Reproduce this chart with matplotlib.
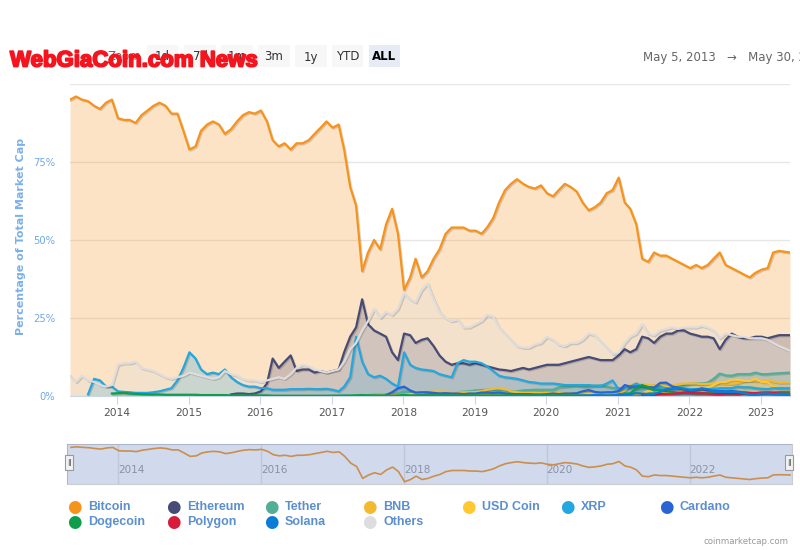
import numpy as np
import pandas as pd
import matplotlib
matplotlib.use("Agg")
import matplotlib.pyplot as plt
import matplotlib.dates as mdates
import matplotlib.patheffects as pe
from matplotlib.patches import Rectangle

# monthly dominance (% of total market cap)
first_day = "2013-05-05"
last_day = "2023-05-30"

btc = [95, 96, 95, 94.5, 93, 92, 94, 95,
       89, 88.5, 88.5, 87.5, 90, 91.5, 93, 94, 93, 90.5, 90.5, 85,
       79, 80, 85, 87, 88, 87, 84, 85.5, 88, 90, 91, 90.5,
       91.5, 88, 82, 80, 81, 79, 81, 81, 82, 84, 86, 88,
       86, 87, 79, 67, 61, 40, 46, 50, 47, 55, 60, 52,
       34, 38, 44, 38, 40, 44, 47, 52, 54, 54, 54, 53,
       53, 52, 54, 57, 62, 66, 68, 69.5, 68, 67, 66.5, 67.5,
       65, 64, 66, 68, 67, 65.5, 62, 59.5, 60.5, 62, 65, 66,
       70, 62, 60, 55, 44, 43, 46, 45, 45, 44, 43, 42,
       41, 42, 41, 42, 44, 46, 42, 41, 40, 39, 38, 39.5,
       40.5, 41, 46, 46.5, 46]

eth_start = "2015-08"
eth = [0.5, 0.8, 0.8, 0.6, 0.8,
       1.5, 4, 12, 9, 11, 13, 8, 8.5, 8.5, 7.5, 8, 7.5,
       8, 8.5, 14, 19, 22, 31, 23, 21, 20, 19, 14, 11.5,
       20, 19.5, 17, 18, 18.5, 16, 13, 11, 10, 10.5, 10.5, 10,
       10.5, 10, 9.5, 9, 8.5, 8.3, 8, 8.5, 9, 8.5, 9, 9.5,
       10, 10, 10, 10.5, 11, 11.5, 12, 12.5, 12, 11.5, 11.5, 11.5,
       13, 15, 14, 15, 19, 18.5, 17, 19, 20, 20, 21, 21,
       20, 19.5, 19, 19, 18.5, 15, 18, 20, 19, 18.5, 18.5, 19,
       19, 18.5, 19, 19.5, 19.5]

usdt_start = "2017-01"
usdt = [0.1, 0.1, 0.2, 0.2, 0.2, 0.2, 0.3, 0.4, 0.4, 0.5, 0.6, 0.8,
        1.5, 1.4, 0.9, 0.8, 0.9, 0.8, 1.0, 1.1, 1.3, 1.2, 1.4, 1.5,
        1.8, 1.9, 2.0, 2.1, 1.7, 1.3, 1.4, 1.5, 1.8, 1.9, 2.0, 2.0,
        2.0, 2.0, 2.8, 3.0, 3.2, 3.3, 3.0, 3.0, 3.3, 3.4, 3.0, 2.6,
        2.5, 2.5, 2.6, 2.4, 2.6, 3.2, 3.5, 3.3, 3.2, 3.0, 2.8, 3.3,
        3.9, 4.0, 4.0, 4.3, 5.5, 7.2, 6.6, 6.5, 7.0, 7.0, 7.0, 7.5,
        7.0, 7.0, 7.2, 7.3, 7.5]

bnb_start = "2017-08"
bnb = [0.1, 0.2, 0.3, 0.4, 0.3,
       0.4, 0.6, 0.8, 1.0, 1.2, 1.5, 1.4, 1.4, 1.3, 1.2, 1.2, 1.2,
       1.3, 1.5, 2.0, 2.3, 2.5, 2.2, 1.5, 1.2, 1.0, 1.0, 1.0, 0.9,
       1.0, 1.0, 0.9, 1.0, 0.9, 1.0, 0.9, 0.8, 1.0, 0.9, 0.8, 0.7,
       0.6, 1.8, 3.5, 4.0, 3.7, 3.6, 3.4, 3.8, 3.0, 3.3, 3.8, 4.0,
       4.0, 4.0, 3.8, 3.9, 4.0, 4.1, 4.0, 3.9, 4.2, 4.7, 5.0, 4.8,
       4.9, 5.0, 4.7, 4.3, 4.4]

usdc_start = "2018-10"
usdc = [0.1, 0.1, 0.1,
        0.2, 0.2, 0.2, 0.2, 0.15, 0.15, 0.2, 0.2, 0.2, 0.2, 0.2, 0.2,
        0.2, 0.2, 0.3, 0.3, 0.3, 0.3, 0.4, 0.5, 0.8, 0.9, 0.7, 0.5,
        0.7, 0.6, 0.6, 0.6, 0.9, 1.6, 1.6, 1.4, 1.3, 1.2, 1.1, 1.7,
        2.3, 2.6, 2.5, 2.6, 3.5, 4.5, 4.5, 5.2, 5.2, 4.9, 4.8, 5.5,
        4.5, 4.4, 3.0, 2.5, 2.5]

xrp_start = "2013-08"
xrp = [0.5, 5.5, 5, 3, 3,
       1.5, 1.3, 1.2, 1.0, 1.0, 1.0, 1.2, 1.5, 2, 2.5, 5, 9,
       14, 12, 8.5, 7, 7.5, 7, 8.5, 6, 4.5, 3.5, 3, 3,
       2.5, 2.5, 2, 2, 2, 2.2, 2.2, 2.2, 2.3, 2.2, 2.2, 2.3,
       2, 1.5, 3, 6, 19, 11, 7, 6, 6.5, 5.5, 4, 3,
       14, 10, 9, 8.5, 8.3, 8, 7, 6.5, 6, 10.5, 11.5, 11,
       11, 10.5, 9.5, 8, 6.5, 6, 5.8, 5.5, 5, 4.5, 4.3, 4,
       4, 4, 3.8, 3.5, 3.5, 3.5, 3.5, 3.5, 3.3, 3.2, 4, 5,
       2, 2.5, 3, 4, 3, 2.5, 2.3, 2.8, 2.5, 2.5, 2.3, 2.3,
       2.2, 2.2, 2.3, 2.2, 2.3, 2.5, 2.5, 2.5, 3, 2.8, 2.8, 2.5,
       2.3, 2.2, 2.5, 2.5, 2.5]

ada_start = "2017-10"
ada = [0.3, 1.2, 2.5,
       3.0, 1.8, 1.1, 1.2, 1.2, 1.0, 0.8, 0.9, 0.8, 0.8, 0.6, 0.8,
       0.8, 1.1, 1.1, 1.0, 1.1, 0.8, 0.6, 0.6, 0.6, 0.6, 0.5, 0.5,
       0.6, 0.8, 0.6, 0.8, 0.8, 0.9, 1.5, 1.9, 1.3, 1.1, 1.2, 1.2,
       1.6, 3.5, 3.0, 3.0, 3.3, 2.8, 2.7, 4.2, 4.3, 3.1, 2.6, 2.1,
       1.7, 1.8, 2.4, 1.8, 1.7, 1.6, 1.5, 1.6, 1.4, 1.2, 1.0, 0.9,
       1.1, 1.1, 1.1, 1.2, 1.2]

doge_start = "2013-12"
doge = [0.8,
        0.9, 1.0, 0.8, 0.7, 0.6, 0.5, 0.5, 0.5, 0.4, 0.4, 0.4, 0.4,
        0.4, 0.4, 0.3, 0.3, 0.3, 0.3, 0.3, 0.2, 0.2, 0.2, 0.2, 0.2,
        0.2, 0.2, 0.1, 0.1, 0.1, 0.1, 0.1, 0.1, 0.1, 0.1, 0.1, 0.1,
        0.1, 0.1, 0.1, 0.1, 0.2, 0.3, 0.2, 0.2, 0.2, 0.2, 0.1, 0.2,
        0.3, 0.2, 0.2, 0.2, 0.2, 0.2, 0.2, 0.2, 0.2, 0.2, 0.2, 0.2,
        0.2, 0.2, 0.2, 0.2, 0.2, 0.2, 0.2, 0.2, 0.2, 0.2, 0.2, 0.2,
        0.2, 0.2, 0.2, 0.2, 0.2, 0.2, 0.2, 0.1, 0.1, 0.1, 0.1, 0.1,
        0.5, 0.8, 0.8, 2.5, 3.5, 2.8, 1.8, 2.0, 1.5, 1.3, 1.1, 1.0,
        1.0, 0.9, 0.9, 0.9, 0.8, 0.7, 0.7, 0.7, 0.7, 1.2, 0.9, 0.9,
        1.0, 1.0, 0.9, 1.0, 0.9]

matic_start = "2021-05"
matic = [0.5, 0.6, 0.5, 0.6, 0.6, 0.7, 0.9, 1.2,
         1.0, 0.9, 0.9, 0.8, 0.6, 0.5, 0.8, 0.8, 0.7, 0.9, 0.9, 0.9,
         1.0, 1.1, 1.0, 0.8, 0.7]

sol_start = "2020-04"
sol = [0.05, 0.05, 0.05, 0.1, 0.2, 0.3, 0.2, 0.2, 0.2,
       0.4, 0.5, 0.6, 0.9, 0.8, 0.6, 0.7, 1.3, 2.2, 2.2, 2.7, 2.3,
       1.8, 2.1, 2.4, 2.2, 1.4, 1.3, 1.3, 1.3, 1.2, 1.0, 0.4, 0.4,
       0.8, 0.8, 0.6, 0.7, 0.6]

others = [6.5, 4.5, 6.5, 5, 4.5, 3.5, 3, 3.5,
          10, 10.5, 10.5, 11, 9, 8.5, 8, 7, 6, 5.5, 6, 6.5,
          7.5, 7, 6.5, 6, 5.5, 6, 8, 7, 6.5, 5.5, 5, 5,
          4.5, 5, 5.5, 6, 5.5, 7, 9, 10, 9.5, 8.5, 8, 7.5,
          8, 8.5, 11, 15, 17, 21, 24, 28, 25, 27, 26, 28,
          33, 31, 30, 34, 36, 31, 27, 25, 24, 24.5, 22, 22,
          23, 24, 26, 25.5, 22, 20, 18, 16, 15.5, 15.5, 16.5, 17,
          19, 18, 16.5, 16, 17, 17, 18, 20, 19.5, 17.5, 15.5, 13.5,
          14, 17, 19, 20, 23, 20, 19.5, 21, 21.5, 22, 21.5, 22,
          22, 22, 22.5, 22, 21, 18.5, 20, 19.5, 19, 19, 18.5, 18.5,
          18.5, 18, 17, 16, 14.5]

names = ["Bitcoin", "Ethereum", "Tether", "BNB", "USD Coin", "XRP", "Cardano",
         "Dogecoin", "Polygon", "Solana", "Others"]
colors = ["#F7931A", "#474B77", "#50AF95", "#F3BA2F", "#FFC832", "#23A7E0",
          "#2A64D2", "#0E9E4B", "#D81B3C", "#0A7ED6", "#DDDDDD"]

# one date per month, last point on the end date
dates = pd.date_range(first_day, periods=len(btc) - 1, freq=pd.DateOffset(months=1))
dates = dates.append(pd.DatetimeIndex([last_day]))


def month_index(start):
    y, m = int(start[:4]), int(start[5:7])
    return (y - 2013) * 12 + m - 5


series = [
    (0, btc), (month_index(eth_start), eth), (month_index(usdt_start), usdt),
    (month_index(bnb_start), bnb), (month_index(usdc_start), usdc),
    (month_index(xrp_start), xrp), (month_index(ada_start), ada),
    (month_index(doge_start), doge), (month_index(matic_start), matic),
    (month_index(sol_start), sol), (0, others),
]
for i0, vals in series:
    assert i0 + len(vals) == len(dates), (i0, len(vals))

W, H = 800, 550
fig = plt.figure(figsize=(8, 5.5), dpi=100)
fig.patch.set_facecolor("white")

ax = fig.add_axes([70 / W, 1 - 396 / H, 720 / W, 312 / H])
shadow = [pe.SimpleLineShadow(offset=(0.8, -0.8), alpha=0.15), pe.Normal()]
for (i0, vals), name, c in zip(series, names, colors):
    x = dates[i0:]
    ax.fill_between(x, 0, vals, color=c, alpha=0.25, linewidth=0, zorder=2)
    ax.plot(x, vals, color=c, lw=1.6, zorder=3, path_effects=shadow,
            solid_joinstyle="round")

ax.set_xlim(pd.Timestamp(first_day), pd.Timestamp(last_day))
ax.set_ylim(0, 100)
ax.set_yticks([0, 25, 50, 75, 100])
ax.set_yticklabels(["0%", "25%", "50%", "75%", ""])
ax.yaxis.grid(True, color="#e6e6e6", lw=1)
ax.set_axisbelow(True)
ax.tick_params(axis="y", length=0, labelcolor="#6fa8e6", labelsize=7.2, pad=10.8)
ax.xaxis.set_major_locator(mdates.YearLocator())
ax.xaxis.set_major_formatter(mdates.DateFormatter("%Y"))
ax.tick_params(axis="x", length=6, color="#ccd6eb", labelcolor="#555555",
               labelsize=7.7, pad=3)
for s in ["top", "right", "left"]:
    ax.spines[s].set_visible(False)
ax.spines["bottom"].set_color("#ccd6eb")
ax.set_ylabel("Percentage of Total Market Cap", color="#7cb0e8",
              fontsize=8, fontweight="bold")
ax.yaxis.set_label_coords(-44 / 720, 0.51)

# navigator
nav = fig.add_axes([67 / W, 1 - 484 / H, 725 / W, 40 / H])
nav.plot(dates, btc, color="#F7931A", lw=1.2, zorder=2)
nav.set_xlim(pd.Timestamp(first_day) - pd.Timedelta(days=20),
             pd.Timestamp(last_day) + pd.Timedelta(days=10))
nav.set_ylim(30, 101)
nav.set_yticks([])
nav.xaxis.set_major_locator(mdates.YearLocator(2))
nav.xaxis.set_major_formatter(mdates.DateFormatter("%Y"))
nav.xaxis.grid(True, color="#e6e6e6", lw=1)
nav.set_axisbelow(True)
nav.tick_params(axis="x", length=0, direction="in", pad=-14,
                labelcolor="#999999", labelsize=7.5)
for lab in nav.get_xticklabels():
    lab.set_horizontalalignment("left")
for s in nav.spines.values():
    s.set_color("#cccccc")
nav.add_patch(Rectangle((0, 0), 1, 1, transform=nav.transAxes,
                        facecolor="#6685c2", alpha=0.3, lw=0, zorder=3))
for hx in [69, 789]:
    fig.patches.append(Rectangle(((hx - 4) / W, 1 - 470 / H), 8 / W, 15 / H,
                                 transform=fig.transFigure, facecolor="#f2f2f2",
                                 edgecolor="#999999", lw=0.8, zorder=5))
    fig.text(hx / W, 1 - 463 / H, "||", ha="center", va="center",
             fontsize=5, color="#333333", zorder=6)

# range selector buttons
fig.text(108 / W, 1 - 57 / H, "Zoom", fontsize=8.5, color="#666666", va="center")
buttons = [("1d", 147, 178), ("7d", 184, 216), ("1m", 221, 253), ("3m", 258, 290),
           ("1y", 295, 327), ("YTD", 332, 363), ("ALL", 369, 400)]
for lab, x0, x1 in buttons:
    sel = lab == "ALL"
    fig.patches.append(Rectangle((x0 / W, 1 - 67 / H), (x1 - x0) / W, 22 / H,
                                 transform=fig.transFigure,
                                 facecolor="#e6ebf5" if sel else "#f7f7f7", lw=0))
    fig.text((x0 + x1) / 2 / W, 1 - 57 / H, lab, ha="center", va="center",
             fontsize=8.5, color="#000000" if sel else "#333333",
             fontweight="bold" if sel else "normal")

fig.text(643 / W, 1 - 57 / H, "May 5, 2013   \u2192   May 30, 2023", fontsize=8.5,
         color="#666666", va="center")

# site watermark drawn over the buttons
fig.text(10 / W, 1 - 61 / H, "WebGiaCoin.com News", fontsize=16, fontweight="bold",
         color="#f5141e", va="center", family="Liberation Sans",
         path_effects=[pe.withStroke(linewidth=1.3, foreground="#f5141e")])

# legend
col_x = [74, 173, 271, 369, 468, 567, 666]
row_y = [507, 522]
for k, (name, c) in enumerate(zip(names, colors)):
    mx = col_x[k % 7]
    my = row_y[k // 7]
    fig.text(mx / W, 1 - my / H, "\u25cf", color=c, fontsize=12, ha="center",
             va="center")
    fig.text((mx + 14) / W, 1 - my / H, name, color="#5b8fcf", fontsize=9,
             fontweight="bold", family="Liberation Sans", va="center")

fig.text(789 / W, 1 - 541 / H, "coinmarketcap.com", color="#999999", fontsize=6.2,
         ha="right", va="center")

fig.savefig("out.png", dpi=100)
